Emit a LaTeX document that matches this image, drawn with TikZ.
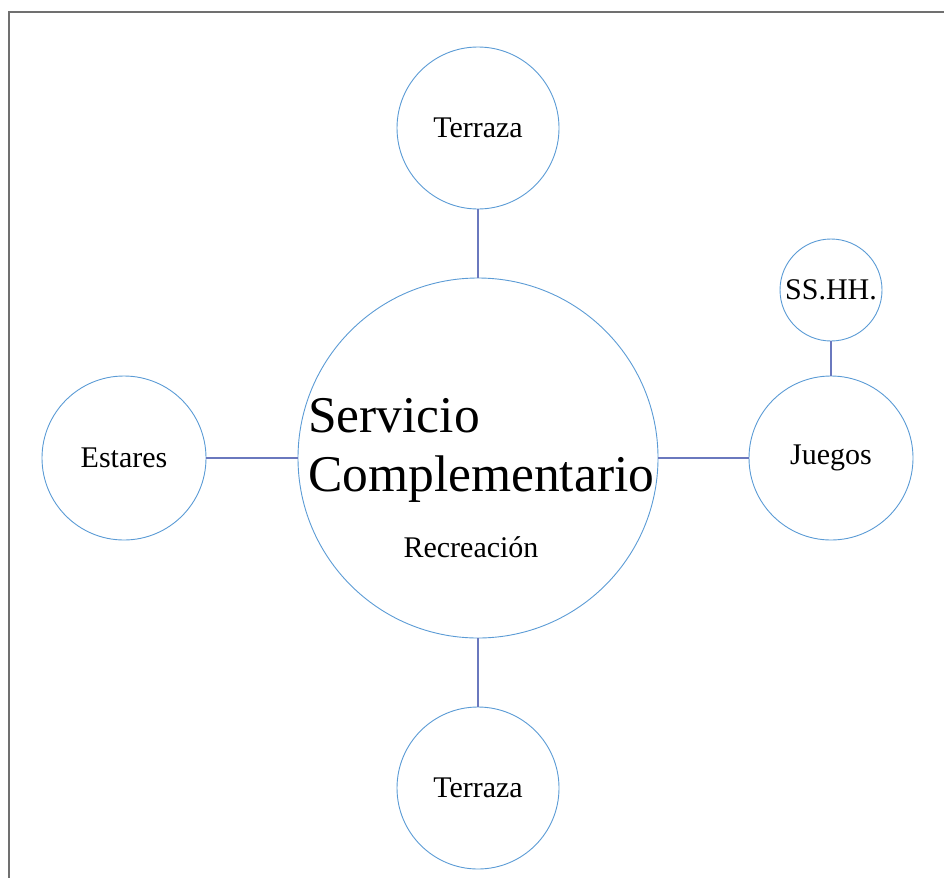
\documentclass[tikz,border=0pt]{standalone}
\usepackage{fontspec}
\setmainfont{Liberation Serif}
\definecolor{ring}{HTML}{5B9BD5}
\definecolor{link}{HTML}{6A78BE}
\definecolor{frame}{HTML}{707070}
\begin{document}
\begin{tikzpicture}[x=1pt,y=1pt,
  room/.style={circle,draw=ring,line width=0.9pt,inner sep=0pt,font=\fontsize{30}{34}\selectfont},
  conn/.style={draw=link,line width=1.1pt}]
\useasboundingbox (0,0) rectangle (944,-878);
\draw[frame,line width=1.3pt] (944,-12) -- (9,-12) -- (9,-878);
\node[room,minimum size=360pt] (c) at (478,-458) {};
\node[room,minimum size=162pt] (t1) at (478,-128) {Terraza};
\node[room,minimum size=162pt] (t2) at (478,-788) {Terraza};
\node[room,minimum size=164pt] (e) at (124,-458) {Estares};
\node[room,minimum size=164pt] (j) at (831,-458) {Juegos};
\node[room,minimum size=102pt] (s) at (831,-290) {SS.HH.};
\node[anchor=base west,align=left,inner sep=0pt,font=\fontsize{51.5}{59}\selectfont] (title) at (308,-491) {Servicio\\Complementario};
\node[anchor=base,inner sep=0pt,font=\fontsize{30}{34}\selectfont] (rec) at (471,-557) {Recreación};
\draw[conn] (t1) -- (c);
\draw[conn] (c) -- (t2);
\draw[conn] (e) -- (c);
\draw[conn] (c) -- (j);
\draw[conn] (s) -- (j);
\end{tikzpicture}
\end{document}
